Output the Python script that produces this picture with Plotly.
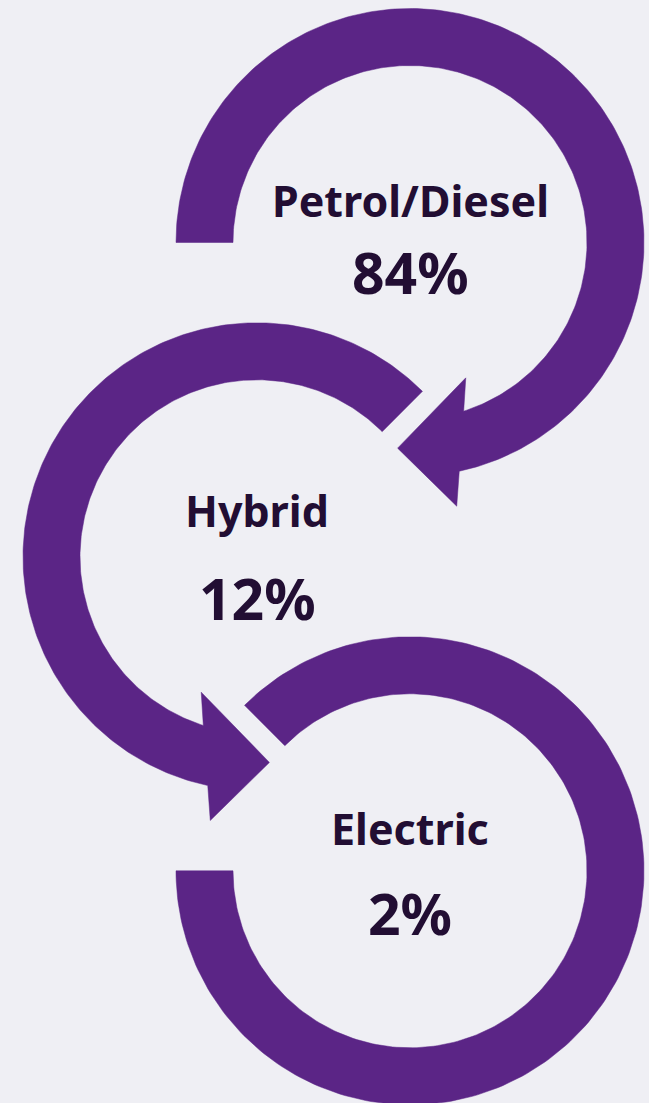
import numpy as np
import plotly.graph_objects as go

# ---- data ----
categories = ["Petrol/Diesel", "Hybrid", "Electric"]
shares = [84, 12, 2]
value_labels = [f"{v}%" for v in shares]

# ---- layout / styling ----
W, H = 649, 1103
BG = "#EFEFF4"
PURPLE = "#5B2586"
TEXT = "#220E33"
FONT = "Noto Sans"

R_OUT, R_IN = 234.0, 177.0
centers = [(410.0, 242.5), (257.0, 556.8), (410.0, 870.8)]
# arc: start angle, end angle (screen degrees, clockwise positive), direction, arrow head?
arcs = [
    dict(start=180.0, end=360 + 77.85, d=+1, head=True),
    dict(start=-45.0, end=102.15 - 360, d=-1, head=True),
    dict(start=225.0, end=540.0, d=+1, head=False),
]
# arrow head pattern: (radius, angle offset relative to shaft end)
HEAD_PTS = [(267.8, 2.1), (206.0, 15.6), (146.4, -10.25)]
INNER_JOIN = -5.5


def pol(c, r, a):
    t = np.radians(a)
    return c[0] + r * np.cos(t), c[1] + r * np.sin(t)


fig = go.Figure()
for c, arc in zip(centers, arcs):
    xs, ys = [], []
    s, e, d = arc["start"], arc["end"], arc["d"]
    outer = np.linspace(s, e, 240)
    x, y = pol(c, R_OUT, outer)
    xs += list(x); ys += list(y)
    if arc["head"]:
        for r, off in HEAD_PTS:
            px, py = pol(c, r, e + d * off)
            xs.append(px); ys.append(py)
        inner_end = e + d * INNER_JOIN
    else:
        inner_end = e
    inner = np.linspace(inner_end, s, 240)
    x, y = pol(c, R_IN, inner)
    xs += list(x); ys += list(y)
    xs.append(xs[0]); ys.append(ys[0])
    fig.add_trace(go.Scatter(x=xs, y=ys, mode="lines", fill="toself",
                             fillcolor=PURPLE, line=dict(color=PURPLE, width=0.5),
                             hoverinfo="skip", showlegend=False))

label_dy = [-42.5, -46.0, -42.0]
value_dy = [29.5, 41.0, 41.7]
for (cx, cy), cat, val, ldy, vdy in zip(centers, categories, value_labels, label_dy, value_dy):
    fig.add_annotation(x=cx, y=cy + ldy, text=f"<b>{cat}</b>", showarrow=False,
                       xanchor="center", yanchor="middle",
                       font=dict(family=FONT, size=43, color=TEXT))
    fig.add_annotation(x=cx, y=cy + vdy, text=f"<b>{val}</b>", showarrow=False,
                       xanchor="center", yanchor="middle",
                       font=dict(family=FONT, size=57, color=TEXT))

fig.update_layout(
    width=W, height=H, margin=dict(l=0, r=0, t=0, b=0),
    paper_bgcolor=BG, plot_bgcolor=BG, showlegend=False,
    xaxis=dict(range=[0, W], visible=False, fixedrange=True),
    yaxis=dict(range=[H, 0], visible=False, fixedrange=True),
)

fig.write_html("out.html", config={"displayModeBar": False, "staticPlot": True},
               post_script=f"document.body.style.margin='0';document.body.style.background='{BG}';")
